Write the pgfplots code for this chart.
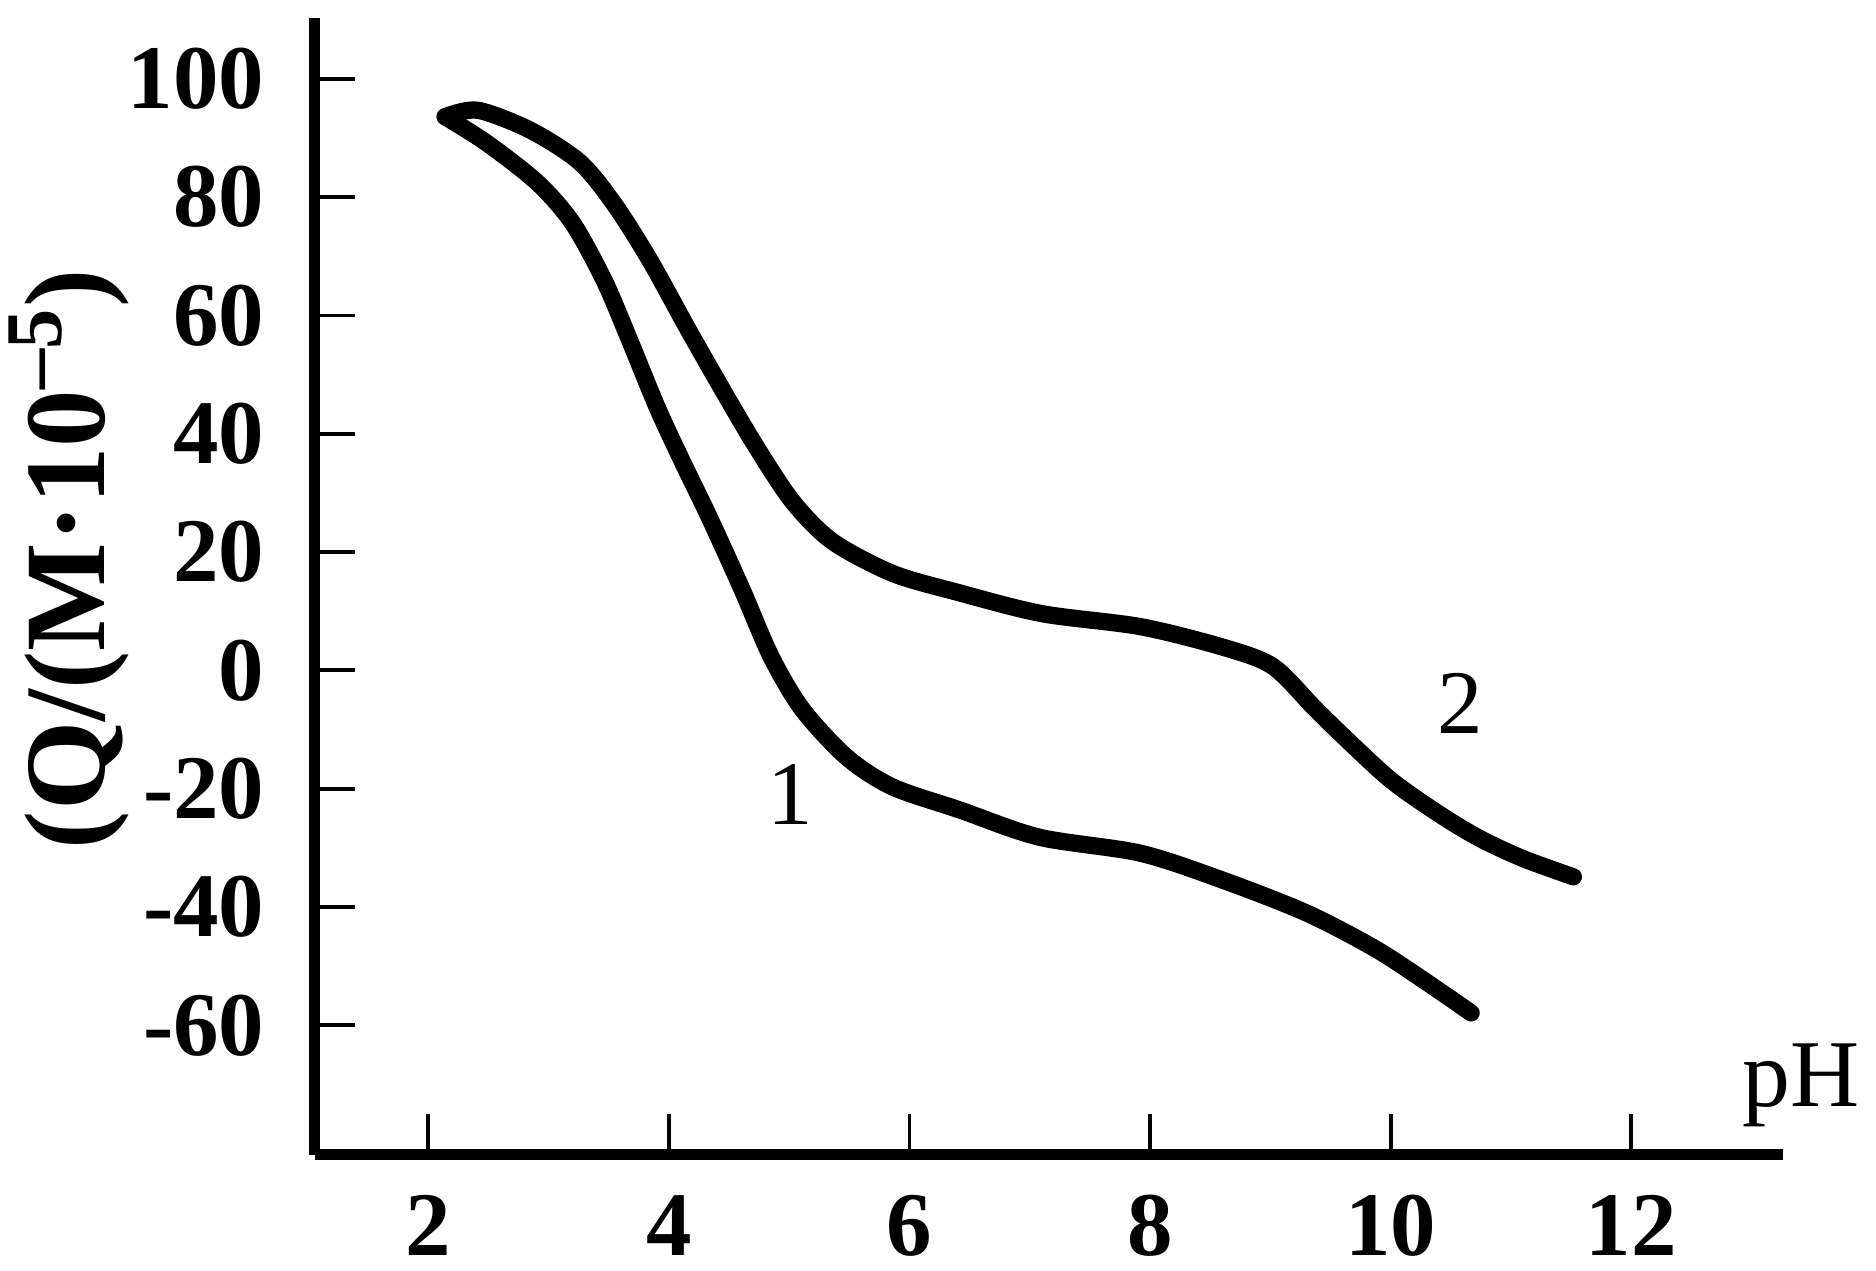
\documentclass[border=0pt]{standalone}
\usepackage{fontspec}
\setmainfont{Liberation Serif}
\usepackage{pgfplots}
\pgfplotsset{compat=1.18}

\begin{document}
\begin{tikzpicture}
\begin{axis}[
  scale only axis,
  width=306.75pt, height=237.5pt,
  xmin=1.055, xmax=13.26,
  ymin=-81.85, ymax=110.3,
  axis lines=left,
  axis line style={-, line width=2.3pt},
  tick align=inside,
  major tick length=8.5pt,
  tick style={line width=0.8pt, black},
  xtick={2,4,6,8,10,12},
  xticklabels={2,4,6,8,10,12},
  ytick={-60,-40,-20,0,20,40,60,80,100},
  yticklabels={-60,-40,-20,0,20,40,60,80,100},
  ticklabel style={font=\fontsize{19}{21}\selectfont\bfseries},
  yticklabel style={xshift=-7pt},
  xticklabel style={yshift=-5pt},
  ylabel={(Q/(M·10\textsuperscript{–5})},
  ylabel style={font=\fontsize{24}{27}\selectfont\bfseries, at={(axis description cs:-0.1675,0.524)}, anchor=center},
  xlabel={pH},
  xlabel style={font=\fontsize{20}{22}\selectfont, at={(axis description cs:0.961,0.042)}, anchor=base west},
  clip=false,
]
\addplot[black, line width=3.6pt, smooth, line cap=round] coordinates {
(2.14,93.6) (2.49,89.1) (2.91,82.4) (3.20,75.6) (3.46,66.0) (3.66,56.5)
(3.90,44.6) (4.10,35.8) (4.34,25.7) (4.61,13.6) (4.85,2.3) (5.11,-6.6)
(5.48,-14.7) (5.86,-19.7) (6.42,-23.6) (7.08,-28.2) (7.92,-30.9) (8.61,-35.5)
(9.30,-41.0) (9.86,-46.9) (10.27,-52.3) (10.67,-57.9)
};
\addplot[black, line width=3.6pt, smooth, line cap=round] coordinates {
(2.14,93.6) (2.41,94.7) (2.85,91.3) (3.26,85.9) (3.55,78.7) (3.84,69.4)
(4.15,58.0) (4.43,48.0) (4.72,38.0) (5.03,28.5) (5.36,21.8) (5.86,16.4)
(6.40,13.2) (7.10,9.6) (7.92,7.4) (8.61,3.9) (9.02,0.7) (9.36,-6.2)
(9.58,-10.6) (10.00,-18.5) (10.42,-24.5) (10.75,-28.5) (11.10,-31.8) (11.52,-34.9)
};
\node[font=\fontsize{19}{21}\selectfont] at (axis cs:5.01,-21.0) {1};
\node[font=\fontsize{19}{21}\selectfont] at (axis cs:10.58,-5.6) {2};
\coordinate (O) at (rel axis cs:0,0);
\coordinate (T) at (rel axis cs:1,1);
\end{axis}
\pgfresetboundingbox
\path (O) ++(-65.75pt,-24.25pt) rectangle ([shift={(19.5pt,3.75pt)}]T);
\end{tikzpicture}
\end{document}
